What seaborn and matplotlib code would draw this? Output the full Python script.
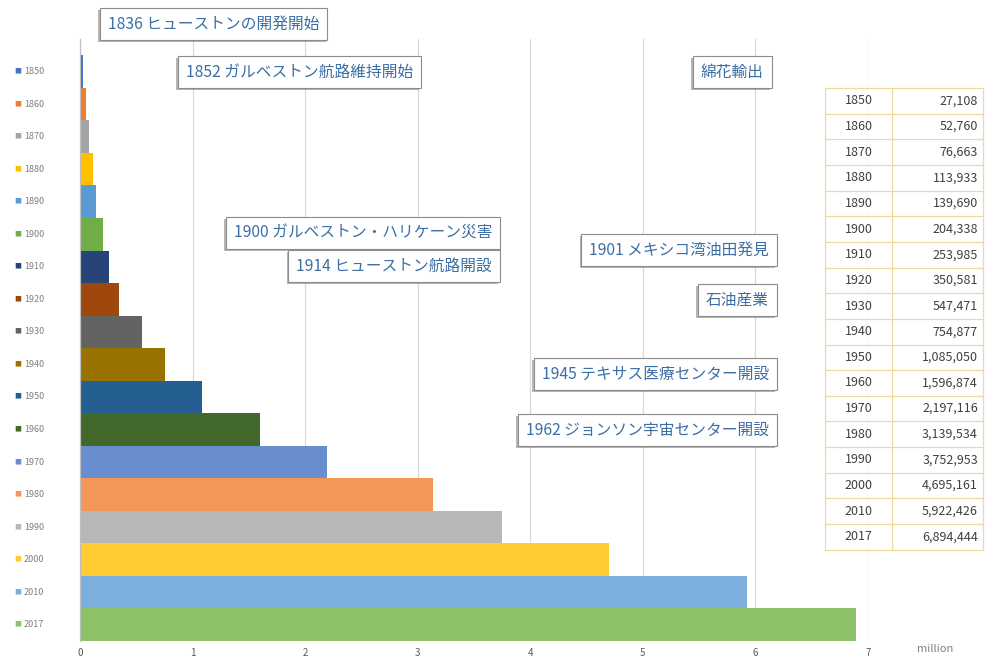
import numpy as np
import pandas as pd
import matplotlib
matplotlib.use("Agg")
import matplotlib.pyplot as plt
import matplotlib.transforms as mtransforms
import matplotlib.patheffects as pe
from matplotlib.lines import Line2D
import seaborn as sns

# Houston population by census year
years = ["1850", "1860", "1870", "1880", "1890", "1900", "1910", "1920", "1930",
         "1940", "1950", "1960", "1970", "1980", "1990", "2000", "2010", "2017"]
population = [27108, 52760, 76663, 113933, 139690, 204338, 253985, 350581, 547471,
              754877, 1085050, 1596874, 2197116, 3139534, 3752953, 4695161, 5922426, 6894444]
bar_colors = ["#4472C4", "#ED7D31", "#A5A5A5", "#FFC000", "#5B9BD5", "#70AD47",
              "#264478", "#9E480E", "#636363", "#997300", "#255E91", "#43682B",
              "#698ED0", "#F1975A", "#B7B7B7", "#FFCD33", "#7CAFDD", "#8CC168"]
x_ticks = [0, 1, 2, 3, 4, 5, 6, 7]

# Historical milestones shown as callout boxes
events = ["1836 ヒューストンの開発開始", "1852 ガルベストン航路維持開始", "綿花輸出",
          "1900 ガルベストン・ハリケーン災害", "1914 ヒューストン航路開設",
          "1901 メキシコ湾油田発見", "石油産業",
          "1945 テキサス医療センター開設", "1962 ジョンソン宇宙センター開設"]
# callout anchors in pixels (x from left, y from top) and horizontal alignment
event_pos = [(108, 24), (186, 72), (764, 72), (492, 233), (492, 266),
             (769, 250), (769, 300), (769, 374), (769, 430)]
event_ha = ["left", "left", "right", "right", "right",
            "right", "right", "right", "right"]

W, H = 991, 662

sns.set_theme(style="white")
plt.rcParams["font.family"] = ["Noto Sans CJK JP", "DejaVu Sans"]

df = pd.DataFrame({"year": years, "million": np.array(population) / 1e6})

fig = plt.figure(figsize=(W / 100, H / 100), dpi=100)
fig.patch.set_facecolor("white")
ax = fig.add_axes([80 / W, 21 / H, 788 / W, 602 / H])

sns.barplot(data=df, y="year", x="million", hue="year", order=years,
            hue_order=years, palette=bar_colors, dodge=False, width=1.0,
            linewidth=0, legend=False, orient="h", ax=ax, saturation=1)

ax.set_xlim(0, 7)
ax.set_ylim(17.5, -1.0)
ax.set_xticks(x_ticks)
ax.set_xticklabels([str(t) for t in x_ticks])
ax.set_yticks([])
ax.set_xlabel("")
ax.set_ylabel("")
ax.grid(axis="x", color="#D9D9D9", linewidth=0.9)
ax.grid(axis="y", visible=False)
ax.set_axisbelow(True)
for side in ("top", "right", "bottom"):
    ax.spines[side].set_visible(False)
ax.spines["left"].set_color("#BFBFBF")
ax.spines["left"].set_linewidth(0.9)
ax.tick_params(axis="x", length=0, pad=5, labelsize=7, labelcolor="#595959")

fig.text(935 / W, 1 - 649 / H, "million", ha="center", va="center",
         fontsize=8, color="#7F7F7F")

# Legend column on the left, aligned with each bar
blend = mtransforms.blended_transform_factory(fig.transFigure, ax.transData)
for i, (yr, c) in enumerate(zip(years, bar_colors)):
    fig.text(18 / W, i, "■", transform=blend, ha="center", va="center",
             fontsize=5, color=c)
    fig.text(24 / W, i, yr, transform=blend, ha="left", va="center",
             fontsize=6.5, color="#7F7F7F")

# Callout boxes
for label, (px, py), ha in zip(events, event_pos, event_ha):
    t = fig.text(px / W, 1 - py / H, label, ha=ha, va="center",
                 fontsize=11.3, color="#3B6EA5",
                 bbox=dict(boxstyle="square,pad=0.5", fc="white",
                           ec="#8C8C8C", lw=0.8))
    t.get_bbox_patch().set_path_effects([
        pe.SimplePatchShadow(offset=(-1.2, -1.5), shadow_rgbFace="#6F6F6F", alpha=0.5),
        pe.Normal()])

# Data table on the right
tx0, txm, tx1 = 825, 892, 983
ttop, row_h = 88, 25.65
grid_col = "#EFD9A0"
n = len(years)
for k in range(n + 1):
    yy = 1 - (ttop + k * row_h) / H
    fig.add_artist(Line2D([tx0 / W, tx1 / W], [yy, yy], color=grid_col, lw=0.9))
for xx in (tx0, txm, tx1):
    fig.add_artist(Line2D([xx / W, xx / W], [1 - ttop / H, 1 - (ttop + n * row_h) / H],
                          color=grid_col, lw=0.9))
for k, (yr, v) in enumerate(zip(years, population)):
    yc = 1 - (ttop + (k + 0.5) * row_h) / H
    fig.text((tx0 + txm) / 2 / W, yc, yr, ha="center", va="center",
             fontsize=9, color="#404040")
    fig.text((tx1 - 5) / W, yc, f"{v:,}", ha="right", va="center",
             fontsize=9, color="#404040")

fig.savefig("out.png", dpi=100)
